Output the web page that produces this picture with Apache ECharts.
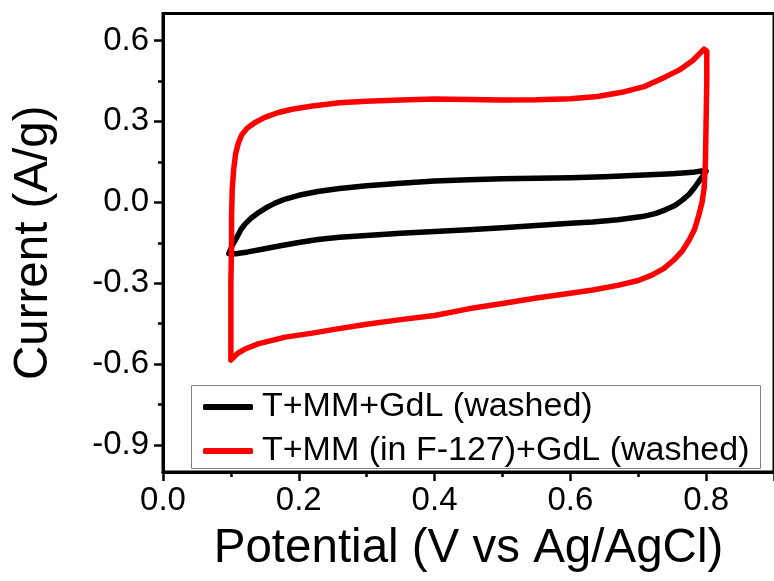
<!DOCTYPE html>
<html>
<head>
<meta charset="utf-8">
<script src="https://cdn.jsdelivr.net/npm/echarts@6/dist/echarts.min.js"></script>
<style>html,body{margin:0;padding:0;background:#fff}#c{width:774px;height:581px}</style>
</head>
<body>
<div id="c"></div>
<script>
// ---- data ----
const seriesNames = ['T+MM+GdL (washed)', 'T+MM (in F-127)+GdL (washed)'];
const blackLoop = [
  [0.097,-0.19],[0.102,-0.16],[0.109,-0.129],[0.115,-0.100],[0.121,-0.080],[0.130,-0.058],[0.141,-0.038],[0.153,-0.019],
  [0.165,-0.003],[0.180,0.012],[0.200,0.026],[0.228,0.040],[0.260,0.051],[0.300,0.061],[0.350,0.071],
  [0.400,0.079],[0.450,0.084],[0.500,0.087],[0.550,0.089],[0.600,0.091],[0.650,0.095],[0.700,0.100],
  [0.750,0.106],[0.780,0.111],[0.793,0.116],[0.800,0.115],[0.800,0.112],
  [0.796,0.100],[0.790,0.080],[0.783,0.055],[0.775,0.030],[0.765,0.008],[0.754,-0.012],[0.740,-0.028],[0.725,-0.042],[0.706,-0.053],
  [0.670,-0.065],[0.633,-0.073],[0.600,-0.078],[0.550,-0.086],[0.500,-0.094],[0.450,-0.102],[0.400,-0.108],
  [0.350,-0.115],[0.300,-0.123],[0.260,-0.130],[0.228,-0.138],[0.200,-0.149],[0.175,-0.160],[0.150,-0.172],
  [0.125,-0.184],[0.107,-0.191],[0.097,-0.19]
];
const redLoop = [
  [0.100,-0.585],[0.100,-0.45],[0.100,-0.30],[0.101,-0.15],[0.101,-0.05],[0.102,0.05],[0.104,0.12],
  [0.107,0.18],[0.111,0.22],[0.116,0.25],[0.124,0.275],[0.135,0.295],[0.150,0.315],[0.170,0.333],
  [0.190,0.345],[0.220,0.357],[0.260,0.369],[0.300,0.375],[0.350,0.379],[0.400,0.383],[0.450,0.381],
  [0.500,0.379],[0.550,0.380],[0.600,0.384],[0.640,0.392],[0.680,0.410],[0.710,0.430],[0.740,0.465],
  [0.760,0.490],[0.780,0.525],[0.797,0.568],[0.801,0.560],[0.801,0.450],[0.800,0.300],[0.799,0.150],
  [0.797,0.050],[0.794,0.000],[0.789,-0.050],[0.783,-0.100],[0.775,-0.140],[0.765,-0.180],[0.752,-0.215],
  [0.738,-0.245],[0.720,-0.270],[0.700,-0.290],[0.670,-0.308],[0.633,-0.325],[0.600,-0.337],[0.550,-0.355],
  [0.500,-0.375],[0.450,-0.395],[0.400,-0.420],[0.350,-0.435],[0.300,-0.452],[0.250,-0.472],[0.220,-0.485],
  [0.180,-0.500],[0.140,-0.525],[0.120,-0.545],[0.110,-0.560],[0.100,-0.585]
];
const xLabelValues = [0.0, 0.2, 0.4, 0.6, 0.8];
const yLabelValues = [-0.9, -0.6, -0.3, 0.0, 0.3, 0.6];
const yMinorTickValues = [-0.75, -0.45, -0.15, 0.15, 0.45];
const xTitle = 'Potential (V vs Ag/AgCl)';
const yTitle = 'Current (A/g)';

// ---- chart ----
const FONT = '"Liberation Sans", Arial, sans-serif';
const chart = echarts.init(document.getElementById('c'), null, {renderer: 'canvas'});
chart.setOption({
  animation: false,
  backgroundColor: '#fff',
  grid: {left: 163, top: 13.5, right: -10, bottom: 109, show: true, borderColor: '#000', borderWidth: 3, containLabel: false},
  xAxis: [{
    type: 'value', min: 0, max: 0.9, interval: 0.2,
    name: xTitle, nameLocation: 'middle', nameGap: 53,
    nameTextStyle: {fontFamily: FONT, fontSize: 47.5, color: '#000'},
    axisLine: {show: true, onZero: false, lineStyle: {color: '#000', width: 3}},
    axisTick: {show: true, length: 9, lineStyle: {color: '#000', width: 2.5}},
    minorTick: {show: true, splitNumber: 2, length: 5, lineStyle: {color: '#000', width: 2.5}},
    axisLabel: {customValues: xLabelValues, margin: 12, fontFamily: FONT, fontSize: 33, color: '#000',
      formatter: v => v.toFixed(1)},
    splitLine: {show: false}, minorSplitLine: {show: false}
  }],
  yAxis: [{
    type: 'value', min: -1.0, max: 0.7,
    name: yTitle, nameLocation: 'middle', nameGap: 105,
    nameTextStyle: {fontFamily: FONT, fontSize: 47.5, color: '#000'},
    axisLine: {show: true, onZero: false, lineStyle: {color: '#000', width: 3}},
    axisTick: {show: true, customValues: yLabelValues, length: 9, lineStyle: {color: '#000', width: 2.5}},
    axisLabel: {customValues: yLabelValues, margin: 14, fontFamily: FONT, fontSize: 33, color: '#000',
      formatter: v => v.toFixed(1)},
    splitLine: {show: false}
  }, {
    type: 'value', min: -1.0, max: 0.7, position: 'left',
    axisLine: {show: false},
    axisTick: {show: true, customValues: yMinorTickValues, length: 5, lineStyle: {color: '#000', width: 2.5}},
    axisLabel: {show: false},
    splitLine: {show: false}
  }],
  legend: {
    show: true, orient: 'vertical', left: 203, top: 389,
    padding: 0, itemGap: 8, itemWidth: 50, itemHeight: 6, icon: 'roundRect',
    textStyle: {fontFamily: FONT, fontSize: 34, color: '#000', lineHeight: 36, padding: [0, 0, 0, 4]},
    data: seriesNames
  },
  graphic: [{
    type: 'rect', left: 189, top: 383, z: 100,
    shape: {width: 569, height: 83},
    style: {fill: null, stroke: '#808080', lineWidth: 1}
  }],
  series: [{
    name: seriesNames[0], type: 'line', data: blackLoop, showSymbol: false, symbol: 'none',
    lineStyle: {color: '#000', width: 5.5, join: 'round', cap: 'round'}, itemStyle: {color: '#000'}, z: 2
  }, {
    name: seriesNames[1], type: 'line', data: redLoop, showSymbol: false, symbol: 'none',
    lineStyle: {color: '#ff0000', width: 5.5, join: 'round', cap: 'round'}, itemStyle: {color: '#ff0000'}, z: 3
  }]
});
</script>
</body>
</html>
